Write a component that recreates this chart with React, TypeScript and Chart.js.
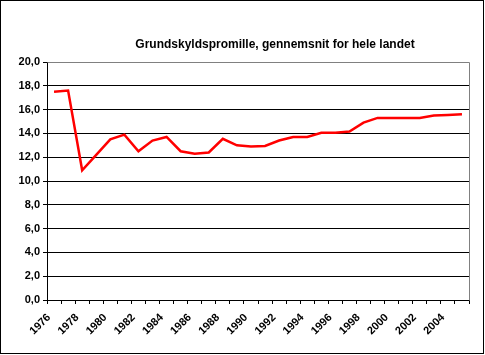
import React, { useEffect, useRef } from "react";
import { Chart, registerables } from "chart.js";

Chart.register(...registerables);

const TITLE = "Grundskyldspromille, gennemsnit for hele landet";
const YEARS = [
  "1976", "1977", "1978", "1979", "1980", "1981", "1982", "1983", "1984", "1985",
  "1986", "1987", "1988", "1989", "1990", "1991", "1992", "1993", "1994", "1995",
  "1996", "1997", "1998", "1999", "2000", "2001", "2002", "2003", "2004", "2005",
];
const PROMILLE = [
  17.5, 17.6, 10.9, 12.2, 13.5, 13.9, 12.5, 13.4, 13.7, 12.5,
  12.3, 12.4, 13.55, 13.0, 12.9, 12.95, 13.4, 13.7, 13.7, 14.05,
  14.05, 14.15, 14.9, 15.3, 15.3, 15.3, 15.3, 15.5, 15.55, 15.6,
];
const Y_MIN = 0;
const Y_MAX = 20;
const Y_STEP = 2;

const frame = {
  id: "frame",
  beforeDatasetsDraw(chart: any) {
    const { ctx, chartArea } = chart;
    ctx.save();
    ctx.strokeStyle = "#808080";
    ctx.lineWidth = 1;
    ctx.beginPath();
    ctx.moveTo(Math.round(chartArea.left) + 0.5, Math.round(chartArea.top) + 0.5);
    ctx.lineTo(Math.round(chartArea.right) + 0.5, Math.round(chartArea.top) + 0.5);
    ctx.lineTo(Math.round(chartArea.right) + 0.5, Math.round(chartArea.bottom) + 0.5);
    ctx.stroke();
    ctx.restore();
  },
  afterDraw(chart: any) {
    const { ctx } = chart;
    ctx.save();
    ctx.strokeStyle = "#000000";
    ctx.lineWidth = 1;
    ctx.strokeRect(0.5, 0.5, 483, 353);
    ctx.fillStyle = "#000000";
    ctx.font = "bold 12px 'Liberation Sans', Arial, sans-serif";
    ctx.textAlign = "center";
    ctx.textBaseline = "alphabetic";
    ctx.fillText(TITLE, 275, 48);
    ctx.restore();
  },
};

export default function App() {
  const ref = useRef<HTMLCanvasElement | null>(null);
  useEffect(() => {
    document.body.style.margin = "0";
    const canvas = ref.current;
    if (!canvas) return;
    const font = { family: "'Liberation Sans', Arial, sans-serif", size: 11, weight: "bold" as const };
    const chart = new Chart(canvas, {
      type: "line",
      data: {
        labels: YEARS,
        datasets: [
          {
            data: PROMILLE,
            borderColor: "#FF0000",
            borderWidth: 2.5,
            pointRadius: 0,
            tension: 0,
            fill: false,
          },
        ],
      },
      options: {
        responsive: false,
        animation: false,
        devicePixelRatio: 1,
        layout: { padding: { left: 0, right: 16, top: 62, bottom: 0 } },
        plugins: { legend: { display: false }, title: { display: false }, tooltip: { enabled: false } },
        scales: {
          x: {
            type: "category",
            offset: true,
            grid: { offset: true, drawOnChartArea: false, drawTicks: true, tickLength: 4, color: "#000000" },
            border: { color: "#000000", width: 1 },
            ticks: {
              autoSkip: false,
              maxRotation: 45,
              minRotation: 45,
              padding: 7,
              labelOffset: -5,
              color: "#000000",
              font,
              callback: (_v: any, i: number) => (i % 2 === 0 ? YEARS[i] : ""),
            },
            afterFit: (s: any) => {
              s.height = 55;
            },
          },
          y: {
            min: Y_MIN,
            max: Y_MAX,
            grid: { color: "#000000", tickLength: 4, drawTicks: true },
            border: { color: "#000000", width: 1 },
            ticks: {
              stepSize: Y_STEP,
              padding: 3,
              color: "#000000",
              font,
              callback: (v: any) => Number(v).toFixed(1).replace(".", ","),
            },
            afterFit: (s: any) => {
              s.width = 47;
            },
          },
        },
      },
      plugins: [frame],
    });
    return () => chart.destroy();
  }, []);
  return (
    <div style={{ width: 485, height: 355 }}>
      <canvas ref={ref} width={485} height={355} style={{ display: "block" }} />
    </div>
  );
}
